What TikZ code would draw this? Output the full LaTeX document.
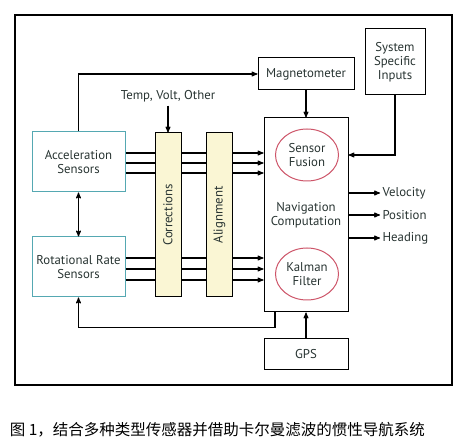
\documentclass[tikz,border=0pt]{standalone}
\usepackage{fontspec}
\usepackage{graphicx}
\setmainfont{PT Sans}
\newfontfamily\cjk{Noto Sans CJK SC}
\usetikzlibrary{positioning}
\usetikzlibrary{arrows}
\usetikzlibrary{shapes.geometric}
\definecolor{sensorline}{RGB}{85,168,178}
\definecolor{barfill}{RGB}{250,246,212}
\definecolor{ovalline}{RGB}{205,85,105}
\definecolor{labeltext}{RGB}{40,52,50}
\tikzset{x=1pt, y=-1pt,
    every node/.style={
        font=\fontsize{12.8}{14}\selectfont,
        text=labeltext,
        align=center},
    block/.style={
        draw,
        line width=1pt,
        inner sep=1pt},
    sensor/.style={
        block,
        draw=sensorline,
        minimum width=93pt,
        minimum height=60pt},
    bar/.style={
        block,
        fill=barfill,
        minimum width=26pt,
        minimum height=164pt},
    oval/.style={
        ellipse,
        draw=ovalline,
        line width=1pt,
        minimum width=63pt,
        minimum height=52pt,
        inner sep=0pt},
    output/.style={
        anchor=west,
        inner sep=2pt},
    every path/.style={
        line width=1.1pt},
    >=stealth'}

\begin{document}
\begin{tikzpicture}
    \useasboundingbox (0,0) rectangle (469,446);
    \draw[line width=1.3pt] (15,15) rectangle (452,385);
    % sensors and computation
    \node[sensor] (accel) at (78.5,162) {Acceleration\\Sensors};
    \node[sensor] (rot) at (78.5,267) {Rotational Rate\\Sensors};
    \node[block, minimum width=84pt, minimum height=194pt] (nav) at (306,215) {Navigation\\Computation};
    \node[oval] (fusion) at (307,155) {Sensor\\Fusion};
    \node[oval] (kalman) at (307,274) {Kalman\\Filter};
    \node[block, minimum width=96pt, minimum height=32pt] (mag) at (306,74) {Magnetometer};
    \node[block, minimum width=60pt, minimum height=66pt] (sys) at (395,62) {System\\Specific\\Inputs};
    \node[block, minimum width=84pt, minimum height=31pt] (gps) at (306,354.5) {GPS};
    % sensor buses
    \foreach \s in {9,-1,-11}
        \draw[->] ([yshift=\s pt]accel.east) -- ([yshift=\s pt]accel.east -| nav.west);
    \foreach \s in {9,-2,-13}
        \draw[->] ([yshift=\s pt]rot.east) -- ([yshift=\s pt]rot.east -| nav.west);
    \node[bar] (corr) at (168,215) {\rotatebox{90}{Corrections}};
    \node[bar] (align) at (219.5,215) {\rotatebox{90}{Alignment}};
    \node (temp) at (168,96) {Temp, Volt, Other};
    % outputs
    \node[output] (vel) at (380,193) {Velocity};
    \node[output] (pos) at (380,215) {Position};
    \node[output] (head) at (380,238) {Heading};
    \foreach \o in {vel,pos,head}
        \draw[->] (nav.east |- \o.west) -- (\o.west);
    % other connections
    \draw[->] (accel.north) |- (mag.west);
    \draw[->] (temp.south) -- (corr.north);
    \draw[->] (mag.south) -- (nav.north);
    \draw[->] (sys.south) |- (fusion -| nav.east);
    \draw[<->] (accel.south) -- (rot.north);
    \draw[->] ([xshift=-31pt]nav.south) -- ++(0,15) -| (rot.south);
    \draw[->] (gps.north) -- (nav.south);
    \node[font=\cjk\fontsize{15.5}{17}\selectfont, text=black, anchor=west] (caption) at (6,430)
        {图 1，结合多种类型传感器并借助卡尔曼滤波的惯性导航系统};
\end{tikzpicture}
\end{document}
